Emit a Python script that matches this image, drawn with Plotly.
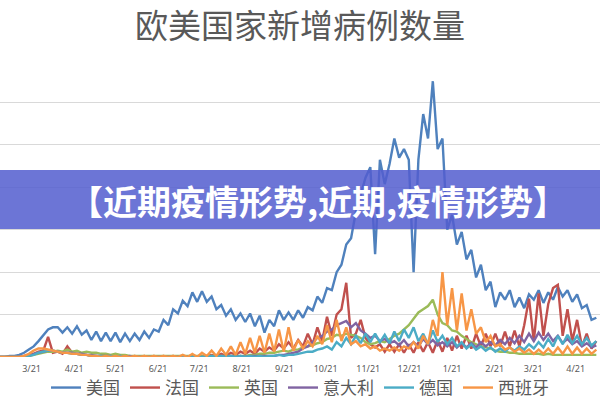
import pandas as pd
import plotly.graph_objects as go

title_text = "欧美国家新增病例数量"
banner_text = "【近期疫情形势,近期,疫情形势】"

# sampling: every 3.5 days starting 2020-02-27 (values in thousands of new cases)
start_date = "2020-02-27"
n_points = 125

tick_dates = ["2020-03-21", "2020-04-21", "2020-05-21", "2020-06-21", "2020-07-21",
              "2020-08-21", "2020-09-21", "2020-10-21", "2020-11-21", "2020-12-21",
              "2021-01-21", "2021-02-21", "2021-03-21", "2021-04-21"]
tick_labels = ["3/21", "4/21", "5/21", "6/21", "7/21", "8/21", "9/21", "10/21",
               "11/21", "12/21", "1/21", "2/21", "3/21", "4/21"]

countries = ["美国", "法国", "英国", "意大利", "德国", "西班牙"]
colors = ["#4f81bd", "#c0504d", "#9bbb59", "#8064a2", "#4bacc6", "#f79646"]

usa = [0, 0, 1, 1, 2, 4, 7, 10, 15, 20, 26, 28, 28, 23, 28, 22, 29, 21, 25, 16,
       24, 15, 23, 15, 23, 14, 22, 15, 22, 16, 24, 18, 26, 24, 35, 30, 45, 41, 53, 48,
       61, 52, 62, 52, 57, 45, 49, 39, 45, 35, 41, 33, 41, 29, 39, 23, 35, 29, 44, 35,
       42, 35, 44, 37, 47, 44, 57, 51, 65, 63, 80, 87, 106, 112, 137, 153, 169, 179, 97, 186,
       163, 182, 206, 188, 196, 186, 80, 186, 229, 206, 260, 196, 206, 120, 134, 106, 118, 92, 101, 75,
       87, 63, 71, 47, 61, 54, 63, 47, 56, 46, 59, 54, 63, 51, 61, 54, 66, 57, 63, 52,
       59, 46, 49, 35, 37]

france = [0, 0, 0, 0, 0, 1, 2, 3, 5, 6, 19, 4, 5, 3, 10, 4, 3, 2, 2, 1,
          1, 0, 1, 0, 1, 0, 1, 0, 1, 0, 1, 0, 1, 0, 1, 0, 1, 0, 1, 0,
          1, 0, 1, 1, 2, 1, 3, 1, 4, 2, 5, 3, 6, 3, 8, 5, 9, 6, 12, 8,
          14, 8, 16, 10, 22, 12, 28, 15, 38, 20, 40, 45, 70, 18, 22, 35, 18, 12, 9, 12,
          5, 12, 5, 12, 4, 12, 4, 14, 5, 14, 4, 16, 5, 18, 6, 20, 8, 20, 8, 22,
          10, 22, 10, 22, 10, 24, 10, 25, 10, 30, 55, 15, 60, 20, 50, 65, 68, 20, 45, 15,
          35, 10, 22, 8, 15]

uk = [0, 0, 0, 0, 0, 0, 1, 2, 3, 4, 5, 5, 6, 5, 7, 5, 6, 4, 5, 4,
      4, 3, 3, 2, 3, 2, 2, 1, 1, 1, 1, 1, 1, 1, 1, 1, 1, 1, 1, 1,
      1, 1, 1, 1, 1, 1, 1, 1, 1, 1, 1, 1, 2, 2, 3, 3, 4, 4, 5, 6,
      5, 7, 7, 9, 10, 11, 13, 14, 17, 18, 21, 20, 22, 21, 20, 18, 14, 12, 13, 15,
      14, 17, 20, 22, 26, 30, 36, 42, 45, 48, 54, 40, 32, 30, 25, 24, 20, 17, 14, 12,
      10, 9, 8, 6, 5, 5, 4, 4, 3, 3, 3, 3, 3, 2, 3, 2, 2, 2, 2, 2,
      2, 2, 2, 2, 2]

italy = [0, 0, 0, 0, 0, 0, 1, 3, 4, 5, 6, 6, 5, 4, 4, 4, 3, 3, 2, 2,
         1, 1, 1, 1, 0, 1, 0, 1, 0, 0, 0, 0, 0, 0, 0, 0, 0, 0, 0, 0,
         0, 0, 0, 0, 0, 0, 1, 0, 1, 0, 1, 0, 1, 1, 1, 1, 1, 1, 2, 2,
         3, 4, 5, 8, 10, 14, 18, 20, 24, 26, 30, 32, 34, 28, 32, 25, 22, 18, 20, 15,
         17, 13, 15, 11, 16, 10, 14, 10, 17, 12, 16, 11, 14, 10, 14, 9, 13, 9, 13, 9,
         14, 10, 14, 11, 16, 12, 18, 13, 20, 14, 22, 15, 23, 16, 22, 15, 20, 13, 17, 12,
         15, 10, 13, 9, 11]

germany = [0, 0, 0, 0, 0, 0, 1, 2, 4, 5, 6, 6, 5, 4, 4, 3, 3, 2, 2, 1,
           1, 1, 0, 1, 0, 1, 0, 0, 0, 0, 0, 0, 0, 0, 0, 0, 0, 0, 0, 0,
           0, 0, 0, 0, 1, 0, 1, 0, 1, 0, 1, 0, 1, 0, 1, 0, 1, 1, 2, 1,
           2, 2, 3, 4, 5, 5, 7, 8, 10, 7, 14, 10, 18, 12, 20, 13, 22, 14, 22, 14,
           21, 13, 24, 15, 26, 18, 28, 15, 22, 12, 25, 14, 20, 12, 18, 10, 14, 8, 12, 7,
           10, 6, 9, 5, 8, 5, 9, 6, 10, 7, 12, 8, 14, 9, 17, 10, 20, 12, 21, 13,
           20, 12, 18, 11, 15]

spain = [0, 0, 0, 0, 0, 1, 3, 6, 8, 8, 7, 6, 5, 4, 4, 3, 3, 2, 2, 1,
         1, 0, 1, 0, 1, 0, 1, 0, 1, 0, 1, 0, 1, 0, 1, 0, 1, 0, 2, 0,
         3, 0, 4, 1, 6, 1, 8, 2, 10, 2, 14, 3, 18, 4, 20, 4, 22, 5, 26, 5,
         28, 6, 16, 8, 15, 10, 20, 12, 30, 14, 35, 15, 28, 12, 15, 10, 12, 8, 10, 6,
         8, 6, 9, 6, 10, 8, 14, 8, 20, 12, 35, 20, 80, 30, 65, 25, 60, 25, 45, 22,
         28, 14, 20, 10, 12, 7, 9, 5, 8, 4, 7, 3, 7, 3, 8, 3, 9, 3, 10, 3,
         9, 3, 8, 3, 7]

series = [usa, france, uk, italy, germany, spain]
dates = pd.date_range(start_date, periods=n_points, freq="84h")

fig = go.Figure()
for name, color, vals in zip(countries, colors, series):
    fig.add_trace(go.Scatter(x=dates, y=vals, mode="lines", name=name,
                             line=dict(color=color, width=2.4)))

fig.update_layout(
    width=600, height=400,
    margin=dict(l=0, r=0, t=60, b=43, autoexpand=False),
    paper_bgcolor="white", plot_bgcolor="white",
    title=dict(text=title_text, x=0.5, xanchor="center", y=0.935, yanchor="middle",
               font=dict(family="Noto Sans CJK SC", size=33, color="#595959")),
    xaxis=dict(range=["2020-02-27", "2021-05-08 16:00"], tickvals=tick_dates,
               ticktext=tick_labels, showgrid=False, zeroline=False, showline=False,
               ticks="outside", ticklen=3, tickcolor="rgba(0,0,0,0)",
               tickfont=dict(family="Noto Sans", size=9, color="#595959")),
    yaxis=dict(range=[0, 280], dtick=40, showticklabels=False, showgrid=True,
               gridcolor="#d9d9d9", gridwidth=1, zeroline=False, showline=False),
    legend=dict(orientation="h", x=0.5, xanchor="center", y=(357 - 388) / 297, yanchor="middle",
                font=dict(family="Noto Sans CJK SC", size=17, color="#595959"),
                bgcolor="rgba(0,0,0,0)", itemwidth=30, tracegroupgap=0),
    showlegend=True,
)

fig.add_shape(type="rect", xref="paper", yref="paper", x0=0, x1=1,
              y0=(357 - 229) / 297, y1=(357 - 170) / 297,
              fillcolor="rgb(82,93,207)", opacity=0.85, line=dict(width=0), layer="above")
fig.add_annotation(text=banner_text, xref="paper", yref="paper",
                   x=0.53, y=(357 - 200) / 297, showarrow=False, xanchor="center", yanchor="middle",
                   font=dict(family="Noto Sans CJK SC", size=34, color="white", weight="bold"))

fig.write_html("out.html")
